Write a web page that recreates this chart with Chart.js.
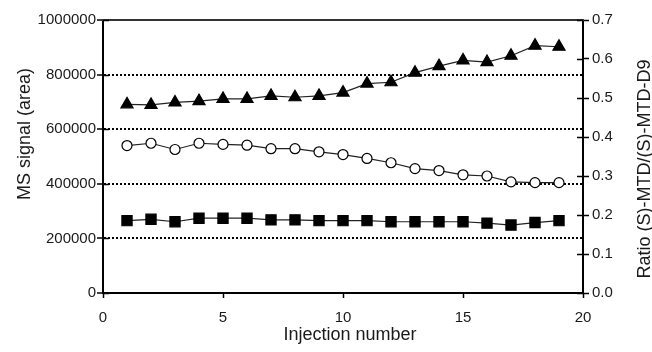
<!DOCTYPE html>
<html>
<head>
<meta charset="utf-8">
<script src="https://cdn.jsdelivr.net/npm/chart.js@4.4.0/dist/chart.umd.min.js"></script>
<style>
  body { margin: 0; background: #fff; }
  #wrap { width: 652px; height: 352px; }
</style>
</head>
<body>
<div id="wrap"><canvas id="myChart" width="652" height="352"></canvas></div>
<script>
// injection number (x)
const injections = [1, 2, 3, 4, 5, 6, 7, 8, 9, 10, 11, 12, 13, 14, 15, 16, 17, 18, 19];

// MS signal (area), left axis
const triangleArea = [691000, 689000, 698000, 703000, 711000, 711000, 722000, 717000, 722000, 734000,
                      767000, 772000, 807000, 831000, 852000, 846000, 869000, 906000, 902000];
const squareArea = [265000, 270000, 261000, 274000, 274000, 274000, 268000, 268000, 265000, 265000,
                    265000, 261000, 261000, 261000, 261000, 256000, 249000, 258000, 265000];

// ratio (S)-MTD/(S)-MTD-D9, right axis
const ratioValues = [0.378, 0.384, 0.368, 0.384, 0.381, 0.379, 0.370, 0.370, 0.362, 0.355,
                     0.345, 0.334, 0.319, 0.314, 0.303, 0.300, 0.285, 0.283, 0.283];

// axis labels
const leftTitle = 'MS signal (area)';
const rightTitle = 'Ratio (S)-MTD/(S)-MTD-D9';
const bottomTitle = 'Injection number';

const FONT = "'Liberation Sans', Arial, sans-serif";
Chart.defaults.font.family = FONT;
Chart.defaults.color = '#1a1a1a';

const toPoints = vals => injections.map((x, i) => ({ x: x, y: vals[i] }));

// inner tick halves, top frame line and axis titles
const axisExtras = {
  id: 'axisExtras',
  afterDraw(chart) {
    const { ctx, chartArea: a, scales } = chart;
    ctx.save();
    ctx.strokeStyle = '#333';
    ctx.lineWidth = 2;
    ctx.beginPath();
    ctx.moveTo(a.left - 2, a.top);
    ctx.lineTo(a.right + 1, a.top);
    ctx.stroke();

    ctx.strokeStyle = '#000';
    ctx.lineWidth = 1.5;
    scales.y.ticks.forEach(t => {
      const py = Math.round(scales.y.getPixelForValue(t.value)) + 0.5;
      ctx.beginPath(); ctx.moveTo(a.left, py); ctx.lineTo(a.left + 6, py); ctx.stroke();
    });
    scales.y1.ticks.forEach(t => {
      const py = Math.round(scales.y1.getPixelForValue(t.value)) + 0.5;
      ctx.beginPath(); ctx.moveTo(a.right - 6, py); ctx.lineTo(a.right, py); ctx.stroke();
    });

    ctx.fillStyle = '#1a1a1a';
    ctx.font = '18px ' + FONT;
    ctx.textAlign = 'center';
    ctx.textBaseline = 'alphabetic';
    ctx.fillText(bottomTitle, 350, 340);

    ctx.save();
    ctx.translate(30, 134);
    ctx.rotate(-Math.PI / 2);
    ctx.fillText(leftTitle, 0, 0);
    ctx.restore();

    ctx.save();
    ctx.translate(650, 169);
    ctx.rotate(-Math.PI / 2);
    ctx.fillText(rightTitle, 0, 0);
    ctx.restore();
    ctx.restore();
  }
};

const lineStyle = { borderColor: '#222', borderWidth: 1.2, tension: 0, pointBorderColor: '#000', pointBorderWidth: 1.2 };

const data = {
  datasets: [
    Object.assign({
      label: 'triangles',
      data: toPoints(triangleArea),
      yAxisID: 'y',
      pointStyle: 'triangle',
      pointRadius: 7,
      pointBackgroundColor: '#000'
    }, lineStyle),
    Object.assign({
      label: 'ratio',
      data: toPoints(ratioValues),
      yAxisID: 'y1',
      pointStyle: 'circle',
      pointRadius: 5,
      pointBackgroundColor: '#fff'
    }, lineStyle),
    Object.assign({
      label: 'squares',
      data: toPoints(squareArea),
      yAxisID: 'y',
      pointStyle: 'rect',
      pointRadius: 7.2,
      pointBackgroundColor: '#000'
    }, lineStyle)
  ]
};

const config = {
  type: 'line',
  data,
  options: {
    responsive: false,
    animation: false,
    layout: { padding: { top: 20, left: 0, right: 0, bottom: 0 } },
    plugins: { legend: { display: false }, tooltip: { enabled: false } },
    scales: {
      x: {
        type: 'linear',
        min: 0, max: 20,
        ticks: { stepSize: 5, padding: 11, font: { size: 15 } },
        grid: { drawOnChartArea: false, drawTicks: true, tickLength: 5, tickColor: '#000', tickWidth: 1.5 },
        border: { display: true, color: '#000', width: 2 },
        afterFit: s => { s.height = 59; }
      },
      y: {
        type: 'linear',
        position: 'left',
        min: 0, max: 1000000,
        ticks: { stepSize: 200000, padding: 1, font: { size: 15 }, callback: v => String(v) },
        grid: {
          drawOnChartArea: true,
          color: '#000',
          lineWidth: ctx => (ctx.tick && ctx.tick.value > 0 && ctx.tick.value < 1000000) ? 2 : 0,
          drawTicks: true, tickLength: 6, tickColor: '#000', tickWidth: 1.5
        },
        border: { display: true, color: '#000', width: 2, dash: [2, 2] },
        afterFit: s => { s.width = 103; }
      },
      y1: {
        type: 'linear',
        position: 'right',
        min: 0, max: 0.7,
        ticks: { stepSize: 0.1, padding: 3, font: { size: 15 }, callback: v => Number(v).toFixed(1) },
        grid: { drawOnChartArea: false, drawTicks: true, tickLength: 6, tickColor: '#000', tickWidth: 1.5 },
        border: { display: true, color: '#000', width: 2 },
        afterFit: s => { s.width = 69; }
      }
    }
  },
  plugins: [axisExtras]
};

const myChart = new Chart(document.getElementById('myChart'), config);
</script>
</body>
</html>
